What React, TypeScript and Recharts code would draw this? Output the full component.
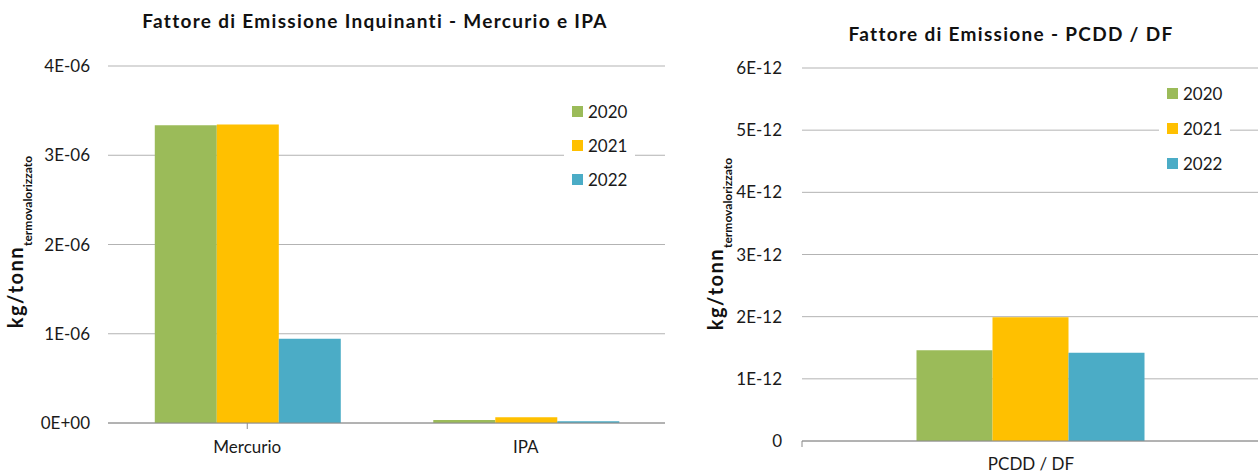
import { Bar, BarChart, CartesianGrid, Legend, XAxis, YAxis } from "recharts";

const YEARS = ["2020", "2021", "2022"];
const COLORS = ["#9BBB59", "#FFC000", "#4BACC6"];

const LEFT_CATEGORIES = ["Mercurio", "IPA"];
const LEFT_2020 = [3.335e-6, 3.5e-8];
const LEFT_2021 = [3.345e-6, 6.5e-8];
const LEFT_2022 = [9.45e-7, 2e-8];
const LEFT_TICKS = [0, 1e-6, 2e-6, 3e-6, 4e-6];

const RIGHT_CATEGORIES = ["PCDD / DF"];
const RIGHT_2020 = [1.46e-12];
const RIGHT_2021 = [1.99e-12];
const RIGHT_2022 = [1.42e-12];
const RIGHT_TICKS = [0, 1e-12, 2e-12, 3e-12, 4e-12, 5e-12, 6e-12];

const FONT = "Lato, 'Open Sans', sans-serif";
const GRID = "#B3B3B3";
const AXIS = "#8C8C8C";
const TICK = { fill: "#1a1a1a", fontSize: 17, fontFamily: FONT };

const leftData = LEFT_CATEGORIES.map((name, i) => ({
  name,
  "2020": LEFT_2020[i],
  "2021": LEFT_2021[i],
  "2022": LEFT_2022[i],
}));

const rightData = RIGHT_CATEGORIES.map((name, i) => ({
  name,
  "2020": RIGHT_2020[i],
  "2021": RIGHT_2021[i],
  "2022": RIGHT_2022[i],
}));

function formatLeft(v: number) {
  if (v === 0) return "0E+00";
  return `${Math.round(v * 1e6)}E-06`;
}

function formatRight(v: number) {
  if (v === 0) return "0";
  return `${Math.round(v * 1e12)}E-12`;
}

// excel style: small tick marks between categories, label in the middle
function makeCategoryTick(half: number, count: number, baseline: number) {
  return function CategoryTick(props: any) {
    const { x, y, payload, index } = props;
    const axisY = y - 8;
    return (
      <g>
        <line x1={x - half} x2={x - half} y1={axisY} y2={axisY + 6} stroke={AXIS} />
        {index === count - 1 && (
          <line x1={x + half} x2={x + half} y1={axisY} y2={axisY + 6} stroke={AXIS} />
        )}
        <text x={x} y={baseline} textAnchor="middle" {...TICK}>
          {payload.value}
        </text>
      </g>
    );
  };
}

const LeftTick = makeCategoryTick(278.5, LEFT_CATEGORIES.length, 453);
const RightTick = makeCategoryTick(229, RIGHT_CATEGORIES.length, 470);

// legend box with a white background, it hides the gridline behind it
function YearLegend({ gap }: { gap: number }) {
  return (
    <div style={{ background: "#fff", padding: "2px 8px", fontFamily: FONT }}>
      {YEARS.map((y, i) => (
        <div
          key={y}
          style={{ display: "flex", alignItems: "center", height: gap, fontSize: 17, color: "#1a1a1a" }}
        >
          <span style={{ width: 11, height: 11, background: COLORS[i], marginRight: 5 }} />
          <span>{y}</span>
        </div>
      ))}
    </div>
  );
}

function UnitLabel({ x, y }: { x: number; y: number }) {
  return (
    <text
      transform={`translate(${x},${y}) rotate(-90)`}
      textAnchor="middle"
      fontFamily={FONT}
      fontWeight="bold"
      fill="#111"
    >
      <tspan fontSize={20} letterSpacing={1.5}>
        kg/tonn
      </tspan>
      <tspan fontSize={12} dy={9}>
        termovalorizzato
      </tspan>
    </text>
  );
}

export default function App() {
  return (
    <div
      style={{
        position: "absolute",
        left: 0,
        top: 0,
        width: 1258,
        height: 474,
        background: "#fff",
        overflow: "hidden",
        fontFamily: FONT,
      }}
    >
      <div style={{ position: "absolute", left: 0, top: 0 }}>
        <BarChart
          width={680}
          height={474}
          data={leftData}
          margin={{ top: 66, right: 15, bottom: 0, left: 0 }}
          barCategoryGap="16.8%"
          barGap={0}
        >
          <CartesianGrid vertical={false} stroke={GRID} />
          <XAxis
            dataKey="name"
            stroke={AXIS}
            tickLine={false}
            height={51}
            tick={LeftTick}
            tickSize={0}
            tickMargin={8}
          />
          <YAxis
            width={108}
            domain={[0, 4e-6]}
            ticks={LEFT_TICKS}
            tickFormatter={formatLeft}
            axisLine={false}
            tickLine={false}
            tick={TICK}
            tickMargin={12}
          />
          <Legend
            verticalAlign="middle"
            align="center"
            layout="vertical"
            content={() => <YearLegend gap={34} />}
            wrapperStyle={{ position: "absolute", left: 564, top: 92, width: "auto" }}
          />
          {YEARS.map((y, i) => (
            <Bar key={y} dataKey={y} fill={COLORS[i]} isAnimationActive={false} />
          ))}
        </BarChart>
      </div>

      <div style={{ position: "absolute", left: 690, top: 0 }}>
        <BarChart
          width={570}
          height={474}
          data={rightData}
          margin={{ top: 68, right: 0, bottom: 0, left: 0 }}
          barCategoryGap="25%"
          barGap={0}
        >
          <CartesianGrid vertical={false} stroke={GRID} />
          <XAxis
            dataKey="name"
            stroke={AXIS}
            tickLine={false}
            height={33}
            tick={RightTick}
            tickSize={0}
            tickMargin={8}
          />
          <YAxis
            width={112}
            domain={[0, 6e-12]}
            ticks={RIGHT_TICKS}
            tickFormatter={formatRight}
            axisLine={false}
            tickLine={false}
            tick={TICK}
            tickMargin={14}
          />
          <Legend
            verticalAlign="middle"
            align="center"
            layout="vertical"
            content={() => <YearLegend gap={35} />}
            wrapperStyle={{ position: "absolute", left: 469, top: 74, width: "auto" }}
          />
          {YEARS.map((y, i) => (
            <Bar key={y} dataKey={y} fill={COLORS[i]} isAnimationActive={false} />
          ))}
        </BarChart>
      </div>

      <svg
        width={1258}
        height={474}
        style={{ position: "absolute", left: 0, top: 0, pointerEvents: "none" }}
      >
        <text
          x={375}
          y={28}
          textAnchor="middle"
          fontFamily={FONT}
          fontWeight="bold"
          fontSize={19}
          letterSpacing={1.3}
          fill="#111"
        >
          Fattore di Emissione Inquinanti - Mercurio e IPA
        </text>
        <text
          x={1011}
          y={41}
          textAnchor="middle"
          fontFamily={FONT}
          fontWeight="bold"
          fontSize={19}
          letterSpacing={1.3}
          fill="#111"
        >
          Fattore di Emissione - PCDD / DF
        </text>
        <UnitLabel x={23} y={242} />
        <UnitLabel x={723} y={244} />
      </svg>
    </div>
  );
}
